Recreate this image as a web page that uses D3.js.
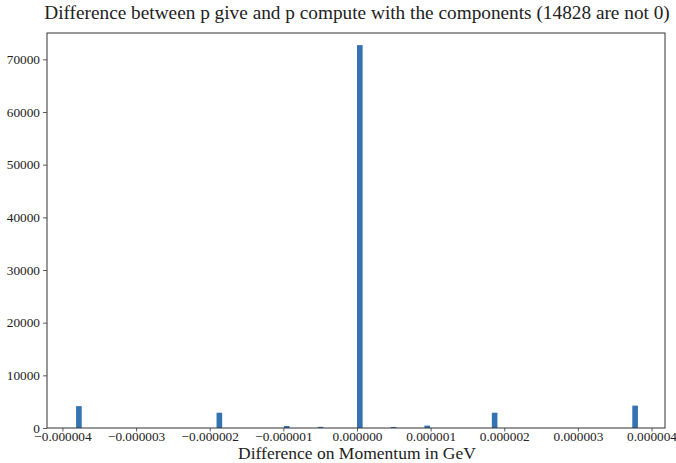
<!DOCTYPE html>
<html>
<head>
<meta charset="utf-8">
<script src="https://cdn.jsdelivr.net/npm/d3@7"></script>
<style>
  body { margin: 0; background: #fff; }
  text { font-family: "Liberation Serif", "DejaVu Serif", serif; fill: #222; }
</style>
</head>
<body>
<div id="chart"></div>
<script>
// differences found (in GeV) and how many times each one shows up
var diffValues = [-3.8147e-6, -1.9073e-6, -9.537e-7, -4.768e-7, 0, 4.768e-7, 9.537e-7, 1.9073e-6, 3.8147e-6];
var diffCounts = [4150, 2900, 380, 220, 72700, 200, 450, 2900, 4250];
var nBins = 100;
var xTicks = [-4e-6, -3e-6, -2e-6, -1e-6, 0, 1e-6, 2e-6, 3e-6, 4e-6];
var yTicks = [0, 10000, 20000, 30000, 40000, 50000, 60000, 70000];

var W = 676, H = 463;
var margin = {top: 33, right: 11, bottom: 35, left: 47};

var svg = d3.select("#chart").append("svg")
    .attr("width", W).attr("height", H);

// histogram bins over [min, max], like matplotlib does
var lo = d3.min(diffValues), hi = d3.max(diffValues);
var binW = (hi - lo) / nBins;
var bins = diffValues.map(function(v, i) {
  var k = Math.min(nBins - 1, Math.floor((v - lo) / binW + 1e-9));
  return {x0: lo + k * binW, x1: lo + (k + 1) * binW, n: diffCounts[i]};
});

var pad = (hi - lo) * 0.05;
var x = d3.scaleLinear()
    .domain([lo - pad, hi + pad])
    .range([margin.left + 1, W - margin.right + 1]);
var y = d3.scaleLinear()
    .domain([0, 75000])
    .range([H - margin.bottom, margin.top]);

// bars
svg.append("g").selectAll("rect")
  .data(bins)
  .enter().append("rect")
    .attr("x", function(d) { return x(d.x0); })
    .attr("width", function(d) { return x(d.x1) - x(d.x0); })
    .attr("y", function(d) { return y(d.n); })
    .attr("height", function(d) { return y(0) - y(d.n); })
    .attr("fill", "#3572b2");

function fmt(d) {
  return (d < 0 ? "\u2212" : "") + Math.abs(d).toFixed(6);
}

var xAxis = d3.axisBottom(x).tickValues(xTicks).tickFormat(fmt)
    .tickSizeInner(3.5).tickSizeOuter(0).tickPadding(0.5);
var gx = svg.append("g")
    .attr("transform", "translate(0," + (H - margin.bottom) + ")")
    .call(xAxis);

var yAxis = d3.axisLeft(y).tickValues(yTicks).tickFormat(d3.format("d"))
    .tickSizeInner(4).tickSizeOuter(0).tickPadding(3);
var gy = svg.append("g")
    .attr("transform", "translate(" + margin.left + ",0)")
    .call(yAxis);

[gx, gy].forEach(function(g) {
  g.select(".domain").remove();
  g.selectAll("line").attr("stroke", "#333").attr("stroke-width", 0.8);
  g.selectAll("text").attr("font-size", 13.3).attr("fill", "#222")
    .style("font-family", '"Liberation Serif", serif');
});

// frame around the plot
svg.append("rect")
    .attr("x", margin.left)
    .attr("y", margin.top)
    .attr("width", W - margin.left - margin.right)
    .attr("height", H - margin.top - margin.bottom)
    .attr("fill", "none")
    .attr("stroke", "#333")
    .attr("stroke-width", 1);

svg.append("text")
    .attr("x", (margin.left + W - margin.right) / 2 + 1)
    .attr("y", 19)
    .attr("text-anchor", "middle")
    .attr("font-size", 19.3)
    .text("Difference between p give and p compute with the components (14828 are not 0)");

svg.append("text")
    .attr("x", (margin.left + W - margin.right) / 2 + 1)
    .attr("y", 459)
    .attr("text-anchor", "middle")
    .attr("font-size", 17.5)
    .text("Difference on Momentum in GeV");
</script>
</body>
</html>
